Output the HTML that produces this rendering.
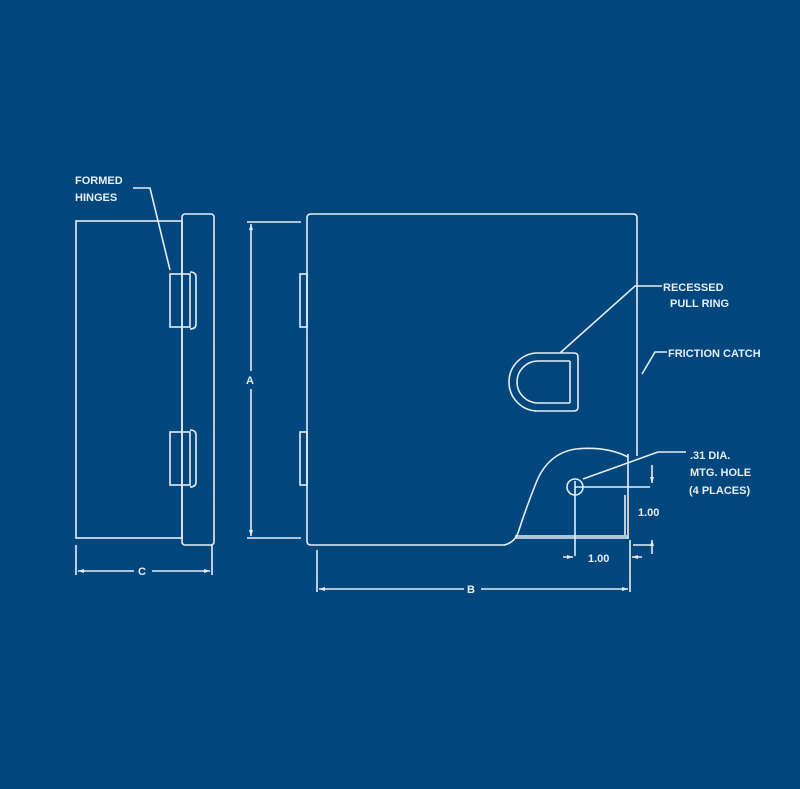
<!DOCTYPE html>
<html><head><style>
html,body{margin:0;padding:0;background:#01467d;}
svg{display:block}
text{font-family:"Liberation Sans",sans-serif;font-weight:bold;font-size:11px;fill:#e8eef4}
</style></head><body>
<svg width="800" height="789" viewBox="0 0 800 789" xmlns="http://www.w3.org/2000/svg">
<rect width="800" height="789" fill="#01467d"/>
<g fill="none" stroke="#e6edf3" stroke-width="1.6">
<rect x="76" y="221" width="106" height="317"/>
<rect x="182" y="214" width="32" height="331" rx="3"/>
<rect x="170" y="274" width="20" height="53"/>
<rect x="170" y="432" width="20" height="53"/>
<path d="M190 272 q6 0 6 5 v47 q0 5 -6 5"/>
<path d="M190 430 q6 0 6 5 v47 q0 5 -6 5"/>
<path d="M76 545 v30 M212 545 v30 M78 571 h56 M152 571 h58"/>
<path d="M247 222 h54 M247 538 h54 M251 224 v147 M251 389 v147"/>
<path d="M307 218 q0 -4 4 -4 h322 q4 0 4 4 v238"/>
<path d="M307 218 v323 q0 4 4 4 h194"/>
<rect x="300" y="274" width="7" height="53"/>
<rect x="300" y="432" width="7" height="53"/>
<path d="M504 545 q10 -2 14 -12 q8 -25 18 -50 q12 -30 40 -34 q30 -3 52 8"/>
<path d="M515 538 h114 M515 536 h112 M628 454 v84 M625 495 v40"/>
<circle cx="575" cy="487" r="8"/>
<path d="M575 481 v75 M575 487 h75"/>
<!-- pull ring -->
<path d="M574 353 H538 A29 29 0 0 0 538 411 H574"/>
<path d="M570 361 H538 A21 21 0 0 0 538 403 H570"/>
<path d="M574 353 q4 0 4 4 v50 q0 4 -4 4"/>
<path d="M570 361 v42"/>
<path d="M667 352 h-12 l-13 22"/>
<path d="M563 557 h10 M632 557 h10 M630 540 v52 M633 545 h20 M652 465 v18 M652 540 v14"/>
<path d="M317 550 v42 M319 589 h145 M481 589 h147"/>
<path d="M133 188 h17 l20 82"/>
<path d="M662 286 h-27 l-75 67"/>
<path d="M686 452 h-28 l-75 27"/>
</g>
<g fill="#e6edf3">
<path d="M78 571 l6 -2 v4z M210 571 l-6 -2 v4z"/>
<path d="M251 224 l-2 6 h4z M251 536 l-2 -6 h4z"/>
<path d="M573 557 l-6 -2 v4z M632 557 l6 -2 v4z"/>
<path d="M652 483 l-2 -6 h4z M652 540 l-2 6 h4z"/>
<path d="M319 589 l6 -2 v4z M628 589 l-6 -2 v4z"/>
</g>
<text x="75" y="184">FORMED</text>
<text x="75" y="201">HINGES</text>
<text x="138" y="575">C</text>
<text x="246" y="384">A</text>
<text x="467" y="593">B</text>
<text x="663" y="291">RECESSED</text>
<text x="670" y="307">PULL RING</text>
<text x="668" y="357">FRICTION CATCH</text>
<text x="690" y="459">.31 DIA.</text>
<text x="690" y="476">MTG. HOLE</text>
<text x="689" y="494">(4 PLACES)</text>
<text x="638" y="516">1.00</text>
<text x="588" y="562">1.00</text>
</svg>
</body></html>
